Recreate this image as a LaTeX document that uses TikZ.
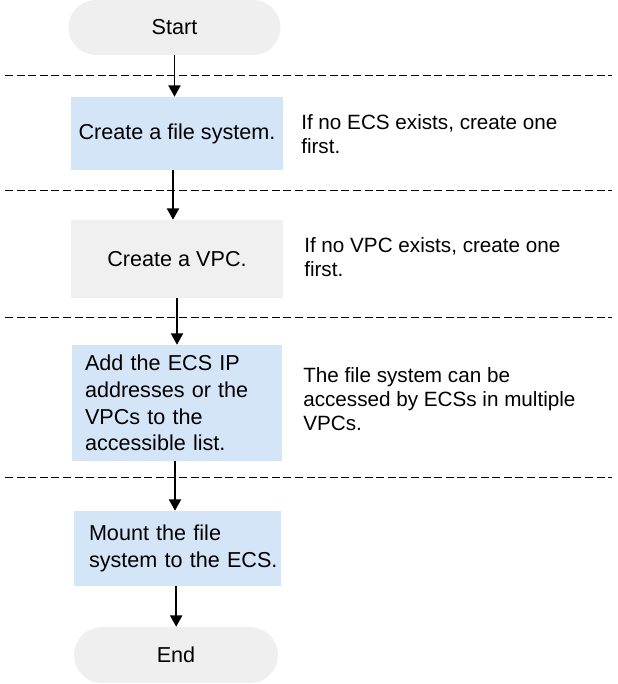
\documentclass[tikz,border=0pt]{standalone}
\usepackage{fontspec}
\setmainfont{Liberation Sans}
\definecolor{fsBlue}{HTML}{D5E5F8}
\definecolor{fsGrey}{HTML}{F0F0F0}
\definecolor{fsPill}{HTML}{EFEFEF}
\usetikzlibrary{arrows.meta}

\begin{document}
\begin{tikzpicture}[x=0.75pt, y=-0.75pt,
  pill/.style={fill=fsPill, rounded corners=20.5pt, minimum width=159pt, minimum height=41.25pt, inner sep=0pt, font=\fontsize{16.2}{20}\selectfont},
  stepbox/.style={fill=#1, minimum width=159pt, inner sep=0pt, font=\fontsize{16.2}{20}\selectfont},
  note/.style={anchor=west, align=left, inner sep=0pt, font=\fontsize{15.5}{18}\selectfont},
  sep/.style={line width=0.75pt, dash pattern=on 6pt off 2.7pt},
  arr/.style={line width=1.4pt, -{Triangle[width=9pt,length=8.5pt]}}]
  \useasboundingbox (0,0) rectangle (617,684);
  % separators between the steps
  \foreach \y in {76,191,317,477}
    \draw[sep] (5,\y) -- (612,\y);
  % flow
  \node[pill] (start) at (174.5,27.5) {Start};
  \node[stepbox=fsBlue, minimum height=54.75pt] (fs) at (177,133.5) {Create a file system.};
  \node[stepbox=fsGrey, minimum height=58.5pt] (vpc) at (177,259) {Create a VPC.};
  \node[stepbox=fsBlue, minimum width=157.5pt, minimum height=87pt, text width=138pt, align=left] (acl) at (177,403)
    {Add the ECS IP\\addresses or the\\VPCs to the\\accessible list.};
  \node[stepbox=fsBlue, minimum width=155.25pt, minimum height=56.25pt, text width=132.75pt, align=left] (mount) at (177.5,548.5)
    {Mount the file\\\mbox{system to the ECS.}};
  \node[pill, minimum width=153pt, minimum height=42pt, rounded corners=21pt] (end) at (176,655) {End};
  % notes
  \node[note] (n1) at (301,134) {If no ECS exists, create one\\first.};
  \node[note] (n2) at (304,257) {If no VPC exists, create one\\first.};
  \node[note] (n3) at (303,399) {The file system can be\\accessed by ECSs in multiple\\VPCs.};
  % arrows
  \draw[arr] (start.south) -- (start.south |- fs.north);
  \draw[arr] ([xshift=-3pt]fs.south) -- ([xshift=-3pt]fs.south |- vpc.north);
  \draw[arr] (vpc.south) -- (vpc.south |- acl.north);
  \draw[arr] ([xshift=-1.5pt]acl.south) -- ([xshift=-1.5pt]acl.south |- mount.north);
  \draw[arr] ([xshift=-1pt]mount.south) -- ([xshift=-1pt]mount.south |- end.north);
\end{tikzpicture}
\end{document}
